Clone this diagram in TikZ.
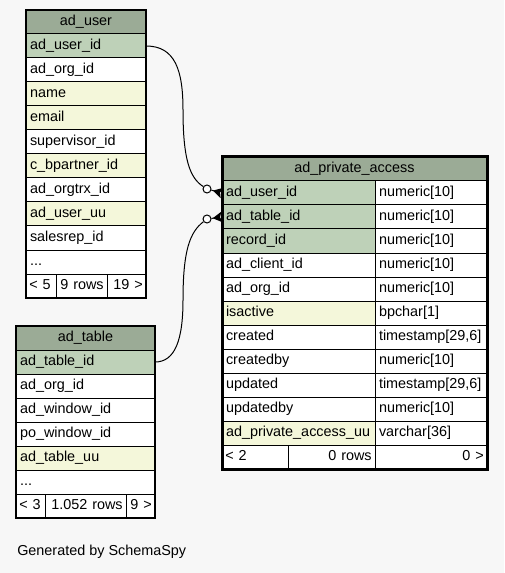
\documentclass[tikz,border=0pt]{standalone}
\usepackage{fontspec}
\setmainfont{Liberation Sans}
\usetikzlibrary{positioning, arrows.meta}
\definecolor{bggray}{HTML}{F7F7F7}
\definecolor{headgreen}{HTML}{9BAB96}
\definecolor{keygreen}{HTML}{BED1B8}
\definecolor{idxyellow}{HTML}{F4F7DA}
\tikzset{
  x=0.75pt, y=-0.75pt,
  every node/.style={font=\fontsize{10.8}{13}\selectfont},
  tblcell/.style={draw=black, line width=0.75pt, fill=white, minimum height=18pt,
    inner xsep=3pt, inner ysep=0pt, outer sep=0pt, text height=8pt, text depth=2.5pt,
    text width=#1, align=left},
  tblhead/.style={tblcell=#1, fill=headgreen, align=center},
  keycell/.style={tblcell=#1, fill=keygreen},
  idxcell/.style={tblcell=#1, fill=idxyellow},
  footleft/.style={tblcell=#1, inner xsep=2.5pt},
  footcell/.style={tblcell=#1, inner xsep=2.5pt, align=right},
  odot/.style={circle, draw=black, line width=0.75pt, fill=white, inner sep=0pt, minimum size=6pt},
  fk/.style={draw=black, line width=0.75pt},
  crow/.style={-{Stealth[reversed, length=7pt, width=8pt, inset=1.5pt]}},
}

\begin{document}
\begin{tikzpicture}
      \fill[bggray] (0,0) rectangle (504,573);
      \useasboundingbox (0,0) rectangle (504,573);

      % ad_user
      \node[tblhead=84pt, anchor=north west] (user) at (26,10) {ad\_user};
      \node[keycell=84pt, below=0pt of user] (u1) {ad\_user\_id};
      \node[tblcell=84pt, below=0pt of u1] (u2) {ad\_org\_id};
      \node[idxcell=84pt, below=0pt of u2] (u3) {name};
      \node[idxcell=84pt, below=0pt of u3] (u4) {email};
      \node[tblcell=84pt, below=0pt of u4] (u5) {supervisor\_id};
      \node[idxcell=84pt, below=0pt of u5] (u6) {c\_bpartner\_id};
      \node[tblcell=84pt, below=0pt of u6] (u7) {ad\_orgtrx\_id};
      \node[idxcell=84pt, below=0pt of u7] (u8) {ad\_user\_uu};
      \node[tblcell=84pt, below=0pt of u8] (u9) {salesrep\_id};
      \node[tblcell=84pt, below=0pt of u9] (u10) {...};
      \node[footleft=17.5pt, below=0pt of u10.south west, anchor=north west] (uf1) {< 5};
      \node[footcell=33.25pt, right=0pt of uf1] (uf2) {9 rows};
      \node[footcell=24.25pt, right=0pt of uf2] (uf3) {19 >};
      \draw[line width=1.2pt] (user.north west) rectangle (uf3.south east);

      % ad_table
      \node[tblhead=98.25pt, anchor=north west] (table) at (16,326) {ad\_table};
      \node[keycell=98.25pt, below=0pt of table] (t1) {ad\_table\_id};
      \node[tblcell=98.25pt, below=0pt of t1] (t2) {ad\_org\_id};
      \node[tblcell=98.25pt, below=0pt of t2] (t3) {ad\_window\_id};
      \node[tblcell=98.25pt, below=0pt of t3] (t4) {po\_window\_id};
      \node[idxcell=98.25pt, below=0pt of t4] (t5) {ad\_table\_uu};
      \node[tblcell=98.25pt, below=0pt of t5] (t6) {...};
      \node[footleft=16.75pt, below=0pt of t6.south west, anchor=north west] (tf1) {< 3};
      \node[footcell=55.75pt, right=0pt of tf1] (tf2) {1.052 rows};
      \node[footcell=16.75pt, right=0pt of tf2] (tf3) {9 >};
      \draw[line width=1.2pt] (table.north west) rectangle (tf3.south east);

      % ad_private_access
      \node[tblhead=192.75pt, anchor=north west] (access) at (222,157) {ad\_private\_access};
      \node[keycell=108.75pt, below=0pt of access.south west, anchor=north west] (pa1) {ad\_user\_id};
      \node[keycell=108.75pt, below=0pt of pa1] (pa2) {ad\_table\_id};
      \node[keycell=108.75pt, below=0pt of pa2] (pa3) {record\_id};
      \node[tblcell=108.75pt, below=0pt of pa3] (pa4) {ad\_client\_id};
      \node[tblcell=108.75pt, below=0pt of pa4] (pa5) {ad\_org\_id};
      \node[idxcell=108.75pt, below=0pt of pa5] (pa6) {isactive};
      \node[tblcell=108.75pt, below=0pt of pa6] (pa7) {created};
      \node[tblcell=108.75pt, below=0pt of pa7] (pa8) {createdby};
      \node[tblcell=108.75pt, below=0pt of pa8] (pa9) {updated};
      \node[tblcell=108.75pt, below=0pt of pa9] (pa10) {updatedby};
      \node[idxcell=108.75pt, below=0pt of pa10] (pa11) {ad\_private\_access\_uu};
      \node[tblcell=78pt, right=0pt of pa1] (ty1) {numeric[10]};
      \node[tblcell=78pt, right=0pt of pa2] (ty2) {numeric[10]};
      \node[tblcell=78pt, right=0pt of pa3] (ty3) {numeric[10]};
      \node[tblcell=78pt, right=0pt of pa4] (ty4) {numeric[10]};
      \node[tblcell=78pt, right=0pt of pa5] (ty5) {numeric[10]};
      \node[tblcell=78pt, right=0pt of pa6] (ty6) {bpchar[1]};
      \node[tblcell=78pt, right=0pt of pa7] (ty7) {timestamp[29,6]};
      \node[tblcell=78pt, right=0pt of pa8] (ty8) {numeric[10]};
      \node[tblcell=78pt, right=0pt of pa9] (ty9) {timestamp[29,6]};
      \node[tblcell=78pt, right=0pt of pa10] (ty10) {numeric[10]};
      \node[tblcell=78pt, right=0pt of pa11] (ty11) {varchar[36]};
      \node[footleft=44.5pt, below=0pt of pa11.south west, anchor=north west] (paf1) {< 2};
      \node[footcell=60.25pt, right=0pt of paf1] (paf2) {0 rows};
      \node[footcell=79pt, right=0pt of paf2] (paf3) {0 >};
      \draw[line width=2.25pt] (access.north west) rectangle (paf3.south east);

      % foreign keys
      \node[odot] (o1) at (207,189) {};
      \node[odot] (o2) at (207,219) {};
      \draw[fk] (u1.east) .. controls (175,46) and (183,70) .. (183,110)
                .. controls (183,160) and (190,178) .. (o1);
      \draw[fk] (t1.east) .. controls (175,362) and (183,340) .. (183,300)
                .. controls (183,250) and (190,232) .. (o2);
      \draw[fk, crow] (o1) -- (pa1.west);
      \draw[fk, crow] (o2) -- (pa2.west);

      \node[anchor=west, inner sep=0pt] (gen) at (17,552) {Generated by SchemaSpy};
\end{tikzpicture}
\end{document}
